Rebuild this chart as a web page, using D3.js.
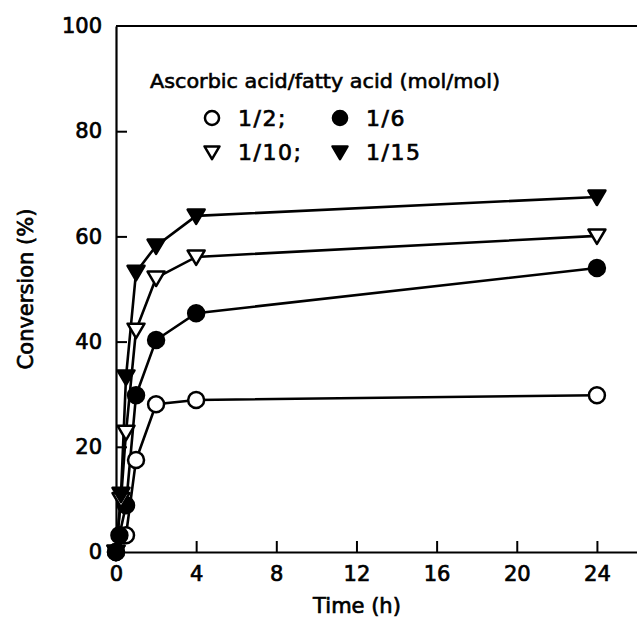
<!DOCTYPE html>
<html><head><meta charset="utf-8">
<script src="https://cdn.jsdelivr.net/npm/d3@7"></script>
<style>body{margin:0;background:#fff}svg{display:block}text{font-family:"DejaVu Sans",sans-serif;fill:#000}</style>
</head><body><svg id="c" width="637" height="627"></svg>
<script>
const timesTri = [0, 0.25, 0.5, 1, 2, 4, 24];
const timesFilledCircle = [0, 0.17, 0.5, 1, 2, 4, 24];
const timesOpenCircle = [0, 0.5, 1, 2, 4, 24];
const ratio1_2 = [0, 3.2, 17.5, 28.1, 28.9, 29.8];
const ratio1_6 = [0, 3.2, 8.9, 29.8, 40.3, 45.4, 54.0];
const ratio1_10 = [0, 10, 22.8, 42.2, 52.1, 56.1, 60.1];
const ratio1_15 = [0, 11, 33.3, 53.2, 58.2, 63.9, 67.5];
const xTicks = [0, 4, 8, 12, 16, 20, 24];
const yTicks = [0, 20, 40, 60, 80, 100];
const legendTitle = "Ascorbic acid/fatty acid (mol/mol)";
const legendLabels = ["1/2;", "1/6", "1/10;", "1/15"];

const svg = d3.select("#c");
const x = d3.scaleLinear().domain([0, 26]).range([116, 637]);
const y = d3.scaleLinear().domain([0, 100]).range([552, 26]);

// frame
svg.append("line").attr("x1",116).attr("x2",637).attr("y1",y(100)).attr("y2",y(100)).attr("stroke","#000").attr("stroke-width",2);
const xa = svg.append("g").attr("transform",`translate(0,${y(0)})`)
  .call(d3.axisBottom(x).tickValues(xTicks).tickSizeInner(-11).tickSizeOuter(0).tickPadding(14));
const ya = svg.append("g").attr("transform",`translate(${x(0)},0)`)
  .call(d3.axisLeft(y).tickValues(yTicks).tickSizeInner(-11).tickSizeOuter(0).tickPadding(14));
[xa, ya].forEach(a => {
  a.select(".domain").attr("stroke-width",2.2);
  a.selectAll(".tick line").attr("stroke-width",2);
  a.selectAll(".tick text").attr("font-size",21).attr("font-family","DejaVu Sans").attr("stroke","#000").attr("stroke-width",0.7);
});
xa.selectAll(".tick").filter(d => d === 0).select("line").remove();
ya.selectAll(".tick").filter(d => d === 0 || d === 100).select("line").remove();
ya.selectAll(".tick text").attr("x", -14);

// titles
svg.append("text").attr("x",357).attr("y",613).attr("text-anchor","middle").attr("font-size",21)
  .attr("stroke","#000").attr("stroke-width",0.7).text("Time (h)");
svg.append("text").attr("transform","translate(33,289) rotate(-90)").attr("text-anchor","middle").attr("font-size",21)
  .attr("stroke","#000").attr("stroke-width",0.7).text("Conversion (%)");

const line = d3.line().x(d => x(d[0])).y(d => y(d[1]));
const series = [
  {t: timesOpenCircle, v: ratio1_2, shape: "circle", fill: "#fff"},
  {t: timesFilledCircle, v: ratio1_6, shape: "circle", fill: "#000"},
  {t: timesTri, v: ratio1_10, shape: "tri", fill: "#fff"},
  {t: timesTri, v: ratio1_15, shape: "tri", fill: "#000"}
];
function marker(g, shape, fill, cx, cy, s) {
  if (shape === "circle") {
    g.append("circle").attr("cx",cx).attr("cy",cy).attr("r",s*0.47)
      .attr("fill",fill).attr("stroke","#000").attr("stroke-width",2.5);
  } else {
    const h = s*0.5;
    g.append("path").attr("d",`M${cx-h},${cy-h*0.75}L${cx+h},${cy-h*0.75}L${cx},${cy+h*0.95}Z`)
      .attr("fill",fill).attr("stroke","#000").attr("stroke-width",2.5).attr("stroke-linejoin","round");
  }
}
series.forEach(s => {
  const pts = s.t.map((t,i) => [t, s.v[i]]);
  svg.append("path").attr("d", line(pts)).attr("fill","none").attr("stroke","#000").attr("stroke-width",2.6);
});
series.forEach(s => {
  const g = svg.append("g");
  s.t.forEach((t,i) => marker(g, s.shape, s.fill, x(t), y(s.v[i]), 17));
});

// legend
svg.append("text").attr("x",150).attr("y",88).attr("font-size",20).attr("textLength",350).attr("lengthAdjust","spacingAndGlyphs")
  .attr("stroke","#000").attr("stroke-width",0.6).text(legendTitle);
const lg = svg.append("g");
const legPos = [[212,118],[340,118],[212,152],[340,152]];
series.forEach((s,i) => {
  marker(lg, s.shape, s.fill, legPos[i][0], legPos[i][1], 15);
  lg.append("text").attr("x",legPos[i][0]+26).attr("y",legPos[i][1]+8).attr("font-size",22)
    .attr("letter-spacing",1.5).attr("stroke","#000").attr("stroke-width",0.7).text(legendLabels[i]);
});
</script></body></html>
